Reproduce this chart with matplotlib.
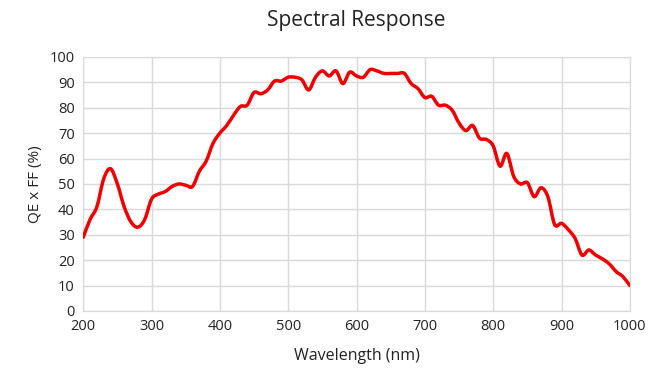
import matplotlib.pyplot as plt
from matplotlib.path import Path
from matplotlib.patches import PathPatch

wavelength = [200, 210, 220, 230, 240, 250, 260, 270, 280, 290,
              300, 310, 320, 330, 340, 350, 360, 370, 380, 390,
              400, 410, 420, 430, 440, 450, 460, 470, 480, 490,
              500, 510, 520, 530, 540, 550, 560, 570, 580, 590,
              600, 610, 620, 630, 640, 650, 660, 670, 680, 690,
              700, 710, 720, 730, 740, 750, 760, 770, 780, 790,
              800, 810, 820, 830, 840, 850, 860, 870, 880, 890,
              900, 910, 920, 930, 940, 950, 960, 970, 980, 990, 1000]
qe_ff = [29, 36, 41, 52, 56, 50, 41, 35, 33, 36,
         44, 46, 47, 49, 50, 49.5, 49, 55, 59, 66,
         70, 73, 77, 80.5, 81, 86, 85.5, 87, 90.5, 90.5,
         92, 92, 91, 87, 92, 94.5, 92.5, 94.5, 89.5, 94,
         92.5, 92, 95, 94.5, 93.5, 93.5, 93.5, 93.5, 89.5, 87.5,
         84, 84.5, 81, 81, 79, 74, 71, 73, 68, 67.5,
         65, 57, 62, 53, 50, 50.5, 45, 48.5, 45, 34,
         34.5, 32, 28.5, 22, 24, 22, 20.5, 18.5, 15.5, 13.5, 10]


def smooth_path(xs, ys):
    # Excel-style smoothed line: Bezier segments through every data point
    pts = list(zip(xs, ys))
    verts = [pts[0]]
    codes = [Path.MOVETO]
    n = len(pts)
    for i in range(n - 1):
        p0 = pts[max(i - 1, 0)]
        p1 = pts[i]
        p2 = pts[i + 1]
        p3 = pts[min(i + 2, n - 1)]
        c1 = (p1[0] + (p2[0] - p0[0]) / 6, p1[1] + (p2[1] - p0[1]) / 6)
        c2 = (p2[0] - (p3[0] - p1[0]) / 6, p2[1] - (p3[1] - p1[1]) / 6)
        verts += [c1, c2, p2]
        codes += [Path.CURVE4] * 3
    return Path(verts, codes)


plt.rcParams['font.family'] = ['Open Sans', 'DejaVu Sans']

fig = plt.figure(figsize=(6.5, 3.72), dpi=100)
ax = fig.add_axes([0.128, 0.164, 0.841, 0.683])
ax.add_patch(PathPatch(smooth_path(wavelength, qe_ff), facecolor='none',
                       edgecolor='#ee0000', linewidth=2.5,
                       joinstyle='round', capstyle='round', zorder=3))

ax.set_xlim(200, 1000)
ax.set_ylim(0, 100)
ax.set_xticks(range(200, 1001, 100))
ax.set_yticks(range(0, 101, 10))
ax.grid(True, color='#d9d9d9', linewidth=1)
for s in ax.spines.values():
    s.set_color('#d9d9d9')
ax.tick_params(length=0, labelsize=10.5, colors='#222222', pad=6)
ax.set_xlabel('Wavelength (nm)', fontsize=11.5, color='#222222', labelpad=10)
ax.set_ylabel('QE x FF (%)', fontsize=11, color='#222222', labelpad=5)
ax.set_title('Spectral Response', fontsize=15, color='#222222', pad=22)

plt.savefig('out.png', dpi=100)
